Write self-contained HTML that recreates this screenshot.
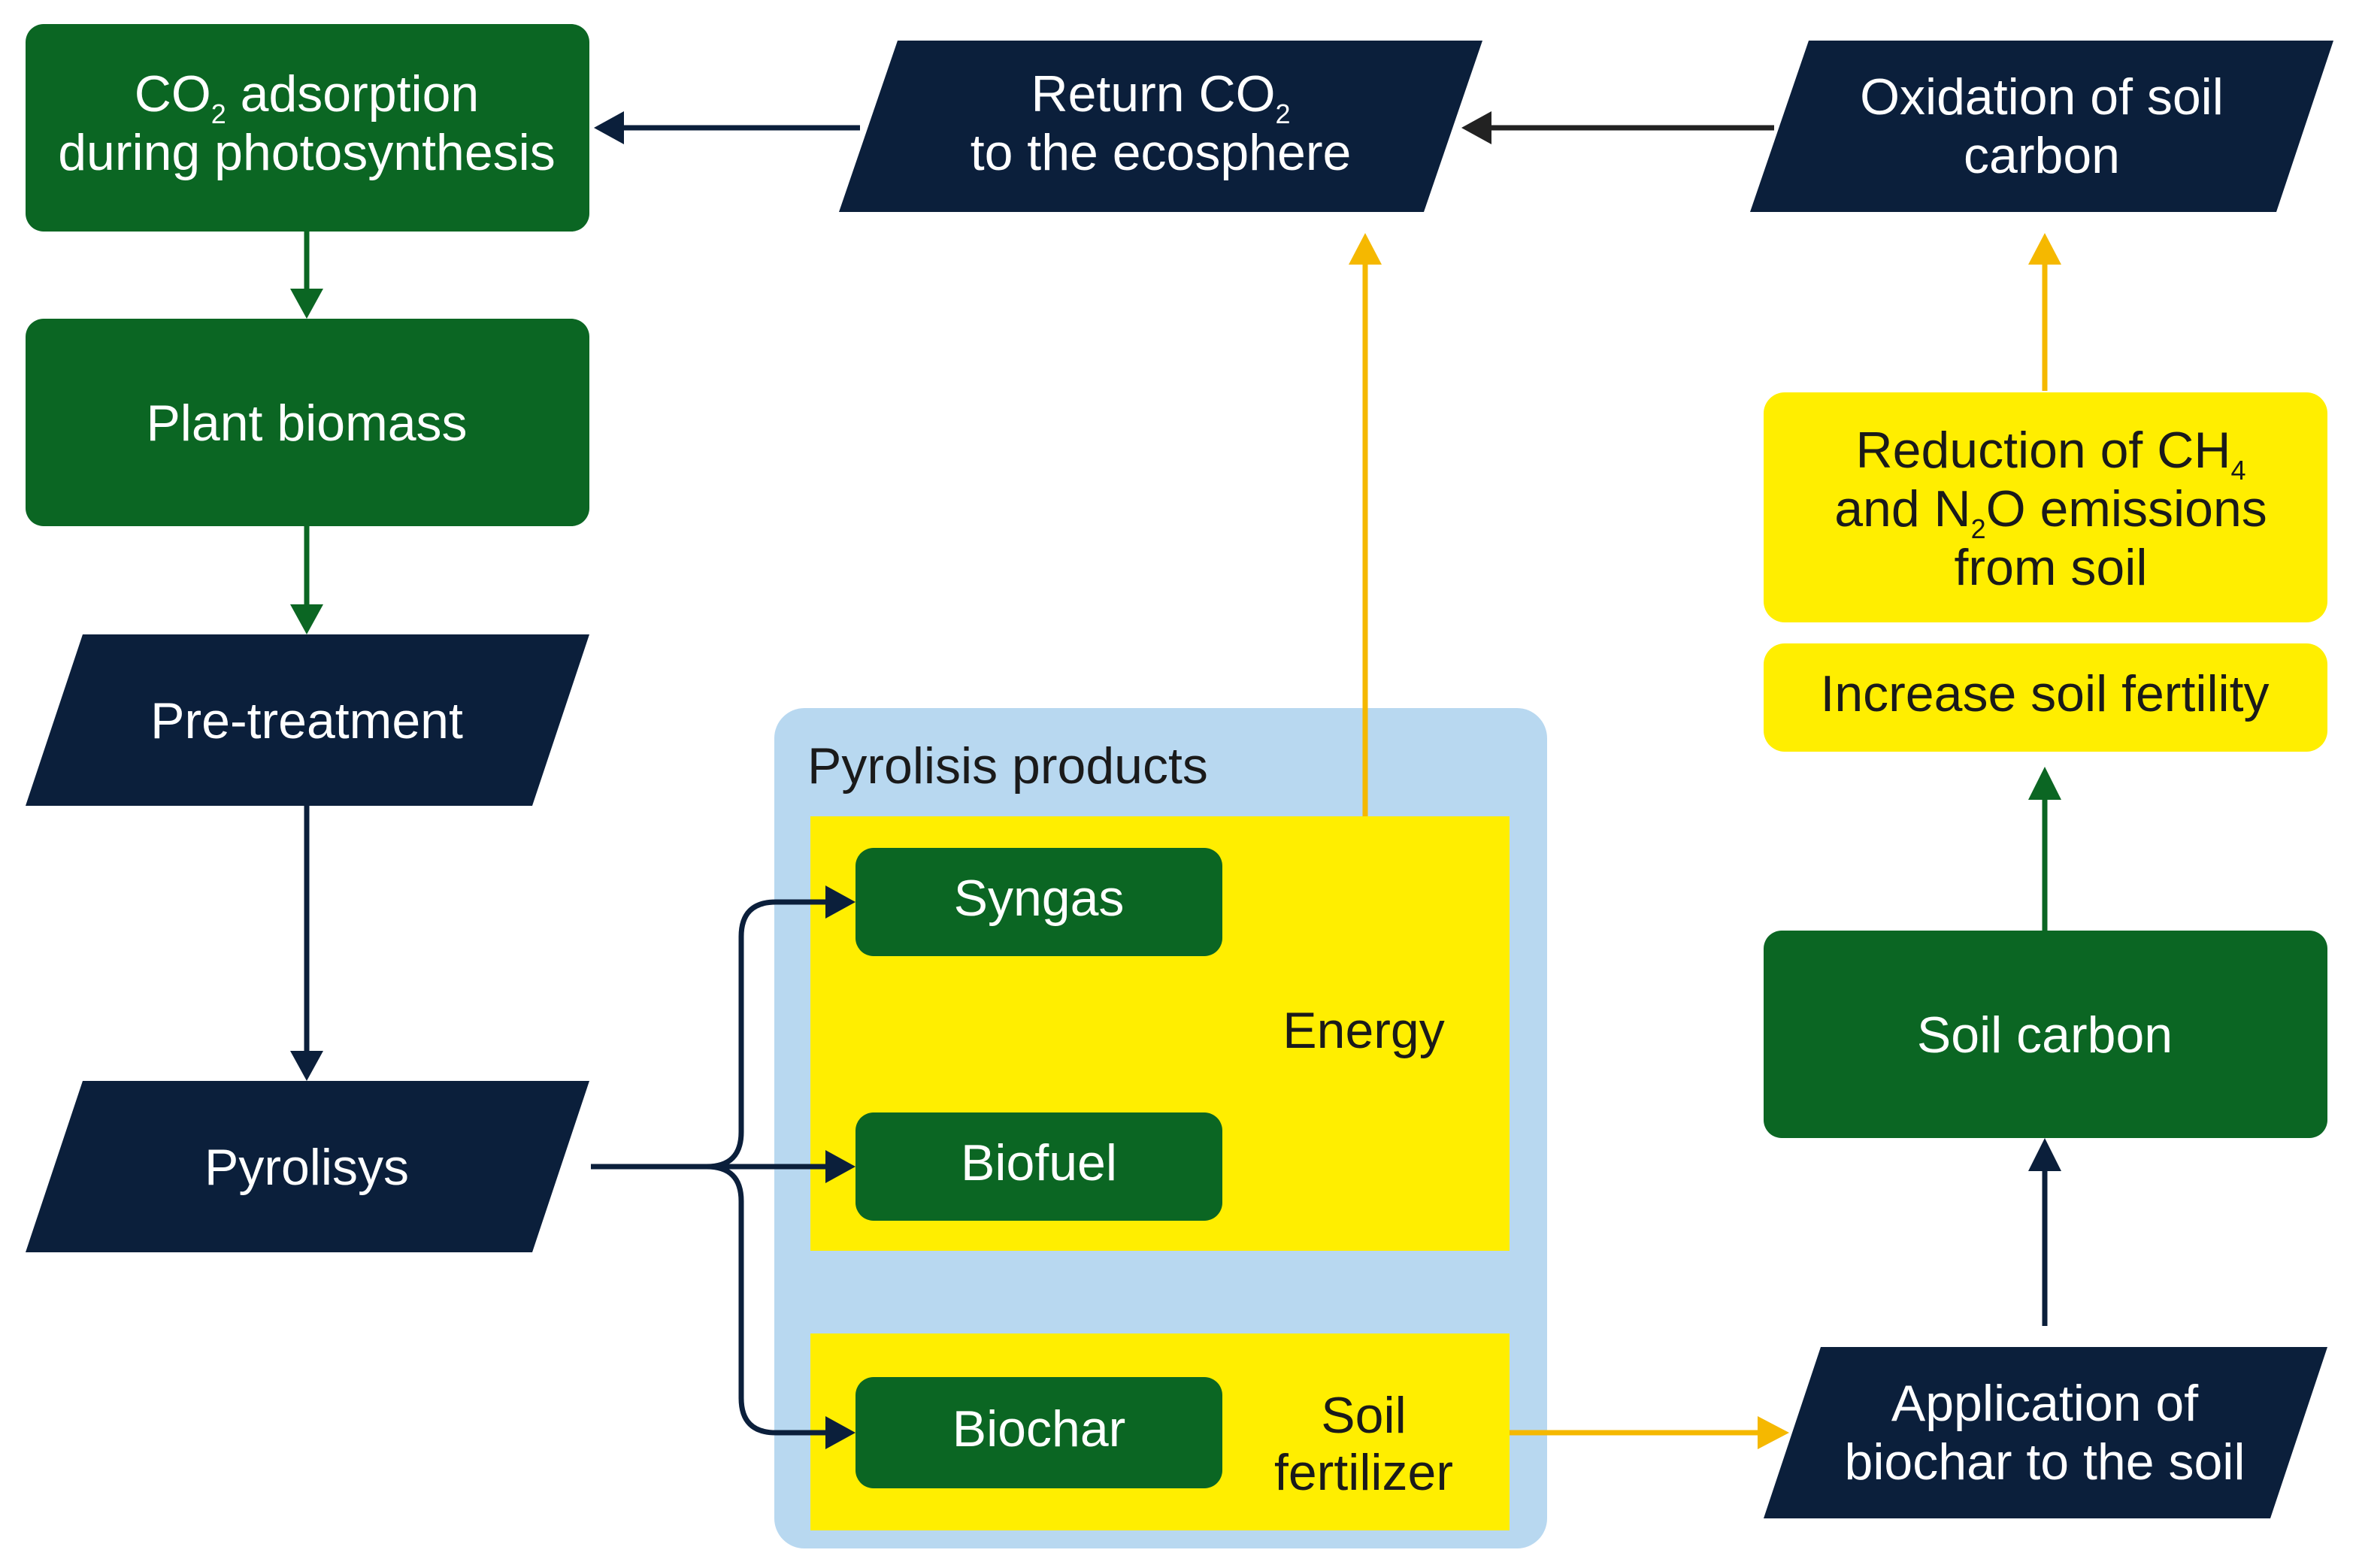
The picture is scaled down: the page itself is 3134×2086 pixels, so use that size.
<!DOCTYPE html>
<html><head><meta charset="utf-8"><style>
html,body{margin:0;padding:0;background:#fff;}
svg{display:block;}
text{font-family:"Liberation Sans",Arial,sans-serif;}
</style></head><body>
<svg width="3134" height="2086" viewBox="0 0 1567 1043" xmlns="http://www.w3.org/2000/svg">
<g fill="#fff" font-size="34" text-anchor="middle">
<rect x="17" y="16" width="375" height="138" rx="12" fill="#0b6623"/>
<text x="204" y="74">CO<tspan font-size="18" dy="8">2</tspan><tspan dy="-8"> adsorption</tspan></text>
<text x="204" y="113">during photosynthesis</text>
<rect x="17" y="212" width="375" height="138" rx="12" fill="#0b6623"/>
<text x="204" y="293">Plant biomass</text>
<polygon points="55,422 392,422 354,536 17,536" fill="#0b1f3b"/>
<text x="204" y="491">Pre-treatment</text>
<polygon points="55,719 392,719 354,833 17,833" fill="#0b1f3b"/>
<text x="204" y="788">Pyrolisys</text>
<polygon points="597,27 986,27 947,141 558,141" fill="#0b1f3b"/>
<text x="772" y="74">Return CO<tspan font-size="18" dy="8">2</tspan></text>
<text x="772" y="113">to the ecosphere</text>
<polygon points="1203,27 1552,27 1514,141 1164,141" fill="#0b1f3b"/>
<text x="1358" y="76">Oxidation of soil</text>
<text x="1358" y="115">carbon</text>
<polygon points="1211,896 1548,896 1510,1010 1173,1010" fill="#0b1f3b"/>
<text x="1360" y="945">Application of</text>
<text x="1360" y="984">biochar to the soil</text>
<rect x="1173" y="261" width="375" height="153" rx="14" fill="#ffee00"/>
<g fill="#1a1a1a">
<text x="1364" y="311">Reduction of CH<tspan font-size="18" dy="8">4</tspan></text>
<text x="1364" y="350">and N<tspan font-size="18" dy="8">2</tspan><tspan dy="-8">O emissions</tspan></text>
<text x="1364" y="389">from soil</text>
</g>
<rect x="1173" y="428" width="375" height="72" rx="14" fill="#ffee00"/>
<text x="1360" y="473" fill="#1a1a1a">Increase soil fertility</text>
<rect x="1173" y="619" width="375" height="138" rx="12" fill="#0b6623"/>
<text x="1360" y="700">Soil carbon</text>
<rect x="515" y="471" width="514" height="559" rx="20" fill="#b8d8f0"/>
<text x="537" y="521" text-anchor="start" fill="#1a1a1a">Pyrolisis products</text>
<rect x="539" y="543" width="465" height="289" fill="#ffee00"/>
<rect x="539" y="887" width="465" height="131" fill="#ffee00"/>
<text x="907" y="697" fill="#1a1a1a">Energy</text>
<text x="907" y="953" fill="#1a1a1a">Soil</text>
<text x="907" y="991" fill="#1a1a1a">fertilizer</text>
<rect x="569" y="564" width="244" height="72" rx="12" fill="#0b6623"/>
<text x="691" y="609">Syngas</text>
<rect x="569" y="740" width="244" height="72" rx="12" fill="#0b6623"/>
<text x="691" y="785">Biofuel</text>
<rect x="569" y="916" width="244" height="74" rx="12" fill="#0b6623"/>
<text x="691" y="962">Biochar</text>
</g>
<g fill="none" stroke-width="3.5">
<line x1="572" y1="85" x2="412" y2="85" stroke="#0b1f3b"/>
<line x1="1180" y1="85" x2="990" y2="85" stroke="#222"/>
<line x1="204" y1="154" x2="204" y2="196" stroke="#0b6623"/>
<line x1="204" y1="350" x2="204" y2="406" stroke="#0b6623"/>
<line x1="204" y1="536" x2="204" y2="703" stroke="#0b1f3b"/>
<path d="M393,776 L470,776 Q493,776 493,753 L493,623 Q493,600 516,600 L553,600" stroke="#0b1f3b"/>
<path d="M470,776 L553,776" stroke="#0b1f3b"/>
<path d="M470,776 Q493,776 493,799 L493,930 Q493,953 516,953 L553,953" stroke="#0b1f3b"/>
<line x1="908" y1="543" x2="908" y2="172" stroke="#f5b800"/>
<line x1="1360" y1="260" x2="1360" y2="172" stroke="#f5b800"/>
<line x1="1360" y1="619" x2="1360" y2="528" stroke="#0b6623"/>
<line x1="1360" y1="882" x2="1360" y2="775" stroke="#0b1f3b"/>
<line x1="1004" y1="953" x2="1172" y2="953" stroke="#f5b800"/>
</g>
<g>
<polygon points="395,85 415,74 415,96" fill="#0b1f3b"/>
<polygon points="972,85 992,74 992,96" fill="#222"/>
<polygon points="204,212 193,192 215,192" fill="#0b6623"/>
<polygon points="204,422 193,402 215,402" fill="#0b6623"/>
<polygon points="204,719 193,699 215,699" fill="#0b1f3b"/>
<polygon points="569,600 549,589 549,611" fill="#0b1f3b"/>
<polygon points="569,776 549,765 549,787" fill="#0b1f3b"/>
<polygon points="569,953 549,942 549,964" fill="#0b1f3b"/>
<polygon points="908,155 897,176 919,176" fill="#f5b800"/>
<polygon points="1360,155 1349,176 1371,176" fill="#f5b800"/>
<polygon points="1360,510 1349,532 1371,532" fill="#0b6623"/>
<polygon points="1360,757 1349,779 1371,779" fill="#0b1f3b"/>
<polygon points="1190,953 1169,942 1169,964" fill="#f5b800"/>
</g>
</svg>
</body></html>
